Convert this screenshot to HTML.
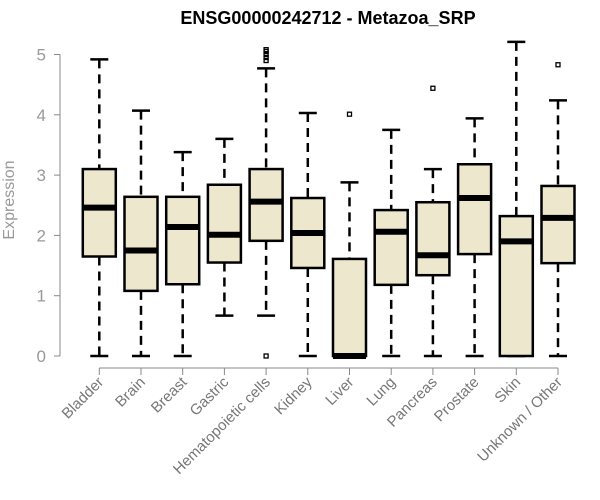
<!DOCTYPE html>
<html><head><meta charset="utf-8"><style>
body{margin:0;background:#fff}
svg{display:block;font-family:"Liberation Sans",Arial,sans-serif}
</style></head><body>
<svg id="chart" width="600" height="500">
<text x="328" y="24" text-anchor="middle" font-weight="bold" font-size="18" fill="#000">ENSG00000242712 - Metazoa_SRP</text>
<text transform="translate(14,200) rotate(-90)" text-anchor="middle" font-size="16" fill="#999">Expression</text>
<g id="yaxis"></g>
<g id="xaxis"></g>
<g id="boxes"></g>
</svg>
<script>
const categories=["Bladder","Brain","Breast","Gastric","Hematopoietic cells","Kidney","Liver","Lung","Pancreas","Prostate","Skin","Unknown / Other"];
const whiskerLow=[0,0,0,0.67,0.67,0,0,0,0,0,0,0];
const q1=[1.65,1.08,1.19,1.55,1.91,1.46,0,1.18,1.34,1.69,0,1.54];
const medians=[2.46,1.75,2.14,2.01,2.56,2.04,0,2.06,1.67,2.62,1.90,2.29];
const q3=[3.10,2.64,2.64,2.84,3.10,2.62,1.61,2.42,2.55,3.18,2.32,2.82];
const whiskerHigh=[4.92,4.07,3.38,3.60,4.77,4.03,2.88,3.75,3.10,3.94,5.21,4.24];
const outliers=[[],[],[],[],[0,4.9,4.95,5.0,5.05,5.08],[],[4.01],[],[4.44],[],[],[4.83]];
const yTicks=[0,1,2,3,4,5];

const NS="http://www.w3.org/2000/svg";
const y=v=>356-v*60.3;
const x=i=>99.3+i*41.7;
const hw=16.5;
function mk(tag,attrs,parent){const e=document.createElementNS(NS,tag);for(const k in attrs)e.setAttribute(k,attrs[k]);parent.appendChild(e);return e;}
const ya=document.getElementById('yaxis'),xa=document.getElementById('xaxis'),bx=document.getElementById('boxes');
let l=mk('line',{x1:60,x2:60,y1:y(5),y2:y(0),stroke:'#888','stroke-width':1},ya);


yTicks.forEach(t=>{
  const tk=mk('line',{x1:54,x2:60,y1:y(t),y2:y(t),stroke:'#888'},ya);
  
  
  const tx=mk('text',{x:46,y:y(t)+6,'text-anchor':'end','font-size':17,fill:'#999'},ya);
  tx.textContent=t;
  
  
});
l=mk('line',{x1:x(0),x2:x(categories.length-1),y1:368,y2:368,stroke:'#888'},xa);


categories.forEach((c,i)=>{
  const tk=mk('line',{x1:x(i),x2:x(i),y1:368,y2:375,stroke:'#888'},xa);
  
  
  const tx=mk('text',{transform:`translate(${x(i)+5},383) rotate(-45)`,'text-anchor':'end','font-size':15,fill:'#777'},xa);
  tx.textContent=c;
  
  
  const g=mk('g',{},bx);
  
  
  const cx=x(i);
  mk('line',{x1:cx,x2:cx,y1:y(whiskerHigh[i]),y2:y(q3[i]),stroke:'#000','stroke-width':2.5,'stroke-dasharray':'9,6'},g);
  mk('line',{x1:cx,x2:cx,y1:y(q1[i]),y2:y(whiskerLow[i]),stroke:'#000','stroke-width':2.5,'stroke-dasharray':'9,6'},g);
  mk('line',{x1:cx-9,x2:cx+9,y1:y(whiskerHigh[i]),y2:y(whiskerHigh[i]),stroke:'#000','stroke-width':2.5},g);
  mk('line',{x1:cx-9,x2:cx+9,y1:y(whiskerLow[i]),y2:y(whiskerLow[i]),stroke:'#000','stroke-width':2.5},g);
  mk('rect',{x:cx-hw,y:y(q3[i]),width:2*hw,height:Math.max(y(q1[i])-y(q3[i]),0.5),fill:'#ede7cd',stroke:'#000','stroke-width':2.5},g);
  mk('line',{x1:cx-hw,x2:cx+hw,y1:y(medians[i]),y2:y(medians[i]),stroke:'#000','stroke-width':6},g);
  outliers[i].forEach(o=>{
    const p=mk('rect',{x:cx-2,y:y(o)-2,width:4,height:4,fill:'none',stroke:'#000','stroke-width':1.3},g);
    
    
  });
});
</script>
</body></html>
